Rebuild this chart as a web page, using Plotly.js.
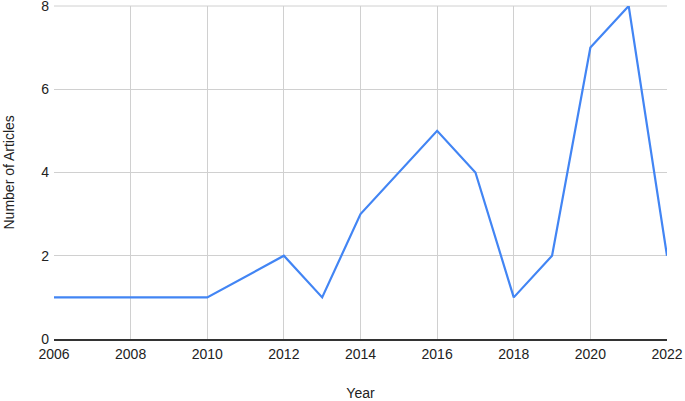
<!DOCTYPE html>
<html><head><meta charset="utf-8">
<script src="https://cdn.plot.ly/plotly-3.0.1.min.js"></script>
<style>body{margin:0;padding:0;background:#fff}#chart{width:685px;height:401px}</style>
</head><body><div id="chart"></div>
<script>
const years = [2006, 2007, 2008, 2009, 2010, 2012, 2013, 2014, 2016, 2017, 2018, 2019, 2020, 2021, 2022];
const articles = [1, 1, 1, 1, 1, 2, 1, 3, 5, 4, 1, 2, 7, 8, 2];
const xTicks = [2006, 2008, 2010, 2012, 2014, 2016, 2018, 2020, 2022];
const yTicks = [0, 2, 4, 6, 8];

const font = {family: '"Liberation Sans", Arial, sans-serif', size: 14, color: '#222'};
Plotly.newPlot('chart', [{
  x: years, y: articles, type: 'scatter', mode: 'lines',
  line: {color: '#4285F4', width: 2.2}, cliponaxis: false, hoverinfo: 'none'
}], {
  width: 685, height: 401,
  margin: {l: 54, r: 18, t: 6, b: 62},
  paper_bgcolor: '#fff', plot_bgcolor: '#fff',
  font: font,
  showlegend: false,
  xaxis: {
    range: [2006, 2022], tickvals: xTicks, ticktext: xTicks.map(String),
    showgrid: true, gridcolor: '#d0d0d0', gridwidth: 1,
    zeroline: false, showline: true, linecolor: '#333', linewidth: 1.5,
    ticks: '', ticklabelstandoff: 2, ticklabeloverflow: 'allow',
    title: {text: 'Year', font: font, standoff: 28}
  },
  yaxis: {
    range: [0, 8], tickvals: yTicks,
    showgrid: true, gridcolor: '#d0d0d0', gridwidth: 1,
    zeroline: false, showline: false, ticks: '', ticklabelstandoff: 4,
    ticklabeloverflow: 'allow'
  },
  shapes: [{type: 'line', xref: 'paper', yref: 'paper', x0: 0, x1: 1, y0: 1, y1: 1,
            line: {color: '#d0d0d0', width: 1}, layer: 'below'}],
  annotations: [{text: 'Number of Articles', textangle: -90, xref: 'paper', yref: 'paper',
                 x: 0, y: 0.5, xanchor: 'center', yanchor: 'middle', xshift: -46,
                 showarrow: false, font: font}]
}, {staticPlot: true});
</script></body></html>
